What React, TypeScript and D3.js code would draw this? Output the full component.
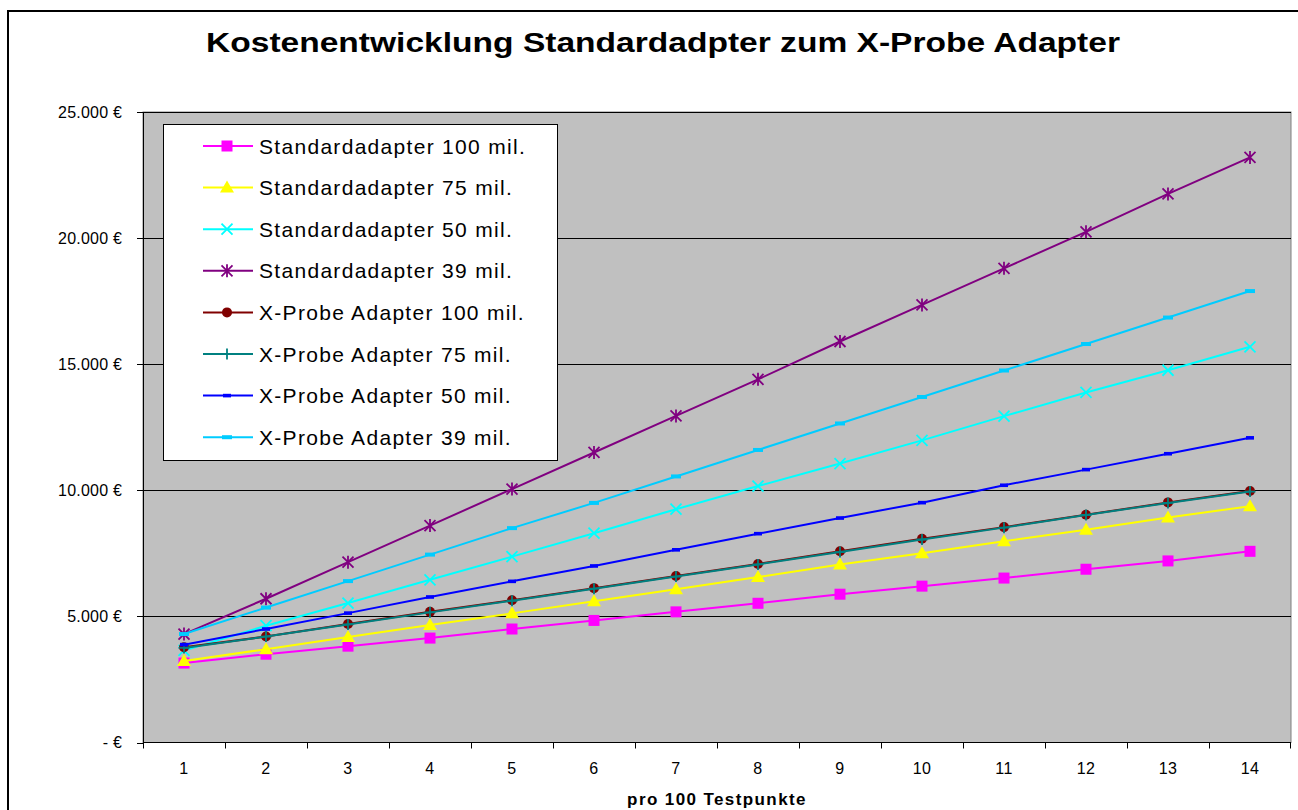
import React from "react";
import * as d3 from "d3";

const categories = ["1","2","3","4","5","6","7","8","9","10","11","12","13","14"];
const yTicks = [0, 5000, 10000, 15000, 20000, 25000];

const std100 = [3150, 3500, 3820, 4140, 4500, 4840, 5180, 5520, 5880, 6200, 6520, 6870, 7200, 7580];
const std75 = [3230, 3700, 4180, 4660, 5120, 5600, 6080, 6560, 7060, 7500, 7980, 8440, 8920, 9370];
const std50 = [3650, 4630, 5530, 6450, 7370, 8300, 9250, 10170, 11060, 11980, 12940, 13880, 14760, 15690];
const std39 = [4300, 5700, 7150, 8600, 10050, 11500, 12950, 14400, 15900, 17350, 18800, 20250, 21750, 23200];
const xp100 = [3780, 4200, 4700, 5180, 5640, 6120, 6600, 7080, 7580, 8080, 8540, 9030, 9520, 9970];
const xp75 = [3750, 4200, 4680, 5160, 5620, 6100, 6580, 7060, 7550, 8050, 8520, 9020, 9500, 9950];
const xp50 = [3880, 4500, 5130, 5770, 6390, 7000, 7640, 8280, 8900, 9510, 10200, 10820, 11450, 12080];
const xp39 = [4300, 5350, 6400, 7450, 8500, 9500, 10550, 11600, 12650, 13700, 14750, 15800, 16850, 17900];

const seriesNames = [
  "Standardadapter 100 mil.",
  "Standardadapter 75 mil.",
  "Standardadapter 50 mil.",
  "Standardadapter 39 mil.",
  "X-Probe Adapter 100 mil.",
  "X-Probe Adapter 75 mil.",
  "X-Probe Adapter 50 mil.",
  "X-Probe Adapter 39 mil.",
];
const seriesValues = [std100, std75, std50, std39, xp100, xp75, xp50, xp39];
const seriesColors = ["#FF00FF", "#FFFF00", "#00FFFF", "#800080", "#800000", "#008080", "#0000FF", "#00CCFF"];
const seriesMarkers = ["square", "triangle", "x", "star", "circle", "plus", "dashSmall", "dashBig"];

const FONT = "'Liberation Sans', Arial, sans-serif";

function Marker({ type, x, y, color }: { type: string; x: number; y: number; color: string }) {
  switch (type) {
    case "square":
      return <rect x={x - 5.5} y={y - 5.5} width={11} height={11} fill={color} />;
    case "triangle":
      return <path d={`M${x},${y - 7} L${x + 7},${y + 5} L${x - 7},${y + 5} Z`} fill={color} />;
    case "x":
      return (
        <path d={`M${x - 5.5},${y - 5.5} L${x + 5.5},${y + 5.5} M${x - 5.5},${y + 5.5} L${x + 5.5},${y - 5.5}`} stroke={color} strokeWidth={1.8} />
      );
    case "star":
      return (
        <path
          d={`M${x - 5.5},${y - 5.5} L${x + 5.5},${y + 5.5} M${x - 5.5},${y + 5.5} L${x + 5.5},${y - 5.5} M${x},${y - 6.5} L${x},${y + 6.5}`}
          stroke={color}
          strokeWidth={1.8}
        />
      );
    case "circle":
      return <circle cx={x} cy={y} r={5} fill={color} />;
    case "plus":
      return <path d={`M${x - 5.5},${y} L${x + 5.5},${y} M${x},${y - 5.5} L${x},${y + 5.5}`} stroke={color} strokeWidth={1.8} />;
    case "dashSmall":
      return <rect x={x - 4} y={y - 1.8} width={8} height={3.6} fill={color} />;
    case "dashBig":
      return <rect x={x - 5} y={y - 2} width={10} height={4} fill={color} />;
    default:
      return null;
  }
}

export default function App() {
  const W = 1298;
  const H = 810;
  const left = 143;
  const right = 1291;
  const top = 112;
  const bottom = 742.5;

  const x = d3.scaleBand<string>().domain(categories).range([left, right]).padding(0);
  const y = d3.scaleLinear().domain([0, 25000]).range([bottom, top]);
  const cx = (c: string) => (x(c) as number) + x.bandwidth() / 2;

  const line = d3
    .line<number>()
    .x((_, i) => cx(categories[i]))
    .y((d) => y(d));

  const fmt = (v: number) => (v === 0 ? "- €" : d3.format(",")(v).replace(/,/g, ".") + " €");

  const legendX = 163;
  const legendY = 124;
  const legendW = 394;
  const legendH = 336;
  const rowY = (i: number) => 146 + i * 41.6;

  return (
    <svg width={W} height={H} style={{ position: "absolute", left: 0, top: 0 }} fontFamily={FONT}>
      <rect x={0} y={0} width={W} height={H} fill="#fff" />
      <rect x={8} y={11} width={1320} height={830} fill="#fff" stroke="#000" strokeWidth={2} />

      <text x={663} y={52} textAnchor="middle" fontSize={27} fontWeight="bold" textLength={914} lengthAdjust="spacingAndGlyphs">
        Kostenentwicklung Standardadpter zum X-Probe Adapter
      </text>

      {/* plot area */}
      <rect x={left} y={top} width={right - left} height={bottom - top} fill="#C0C0C0" stroke="#808080" strokeWidth={1} />
      {yTicks.slice(1).map((t) => (
        <line key={t} x1={left} x2={right} y1={Math.round(y(t)) + 0.5} y2={Math.round(y(t)) + 0.5} stroke="#000" strokeWidth={1} />
      ))}
      <line x1={left + 0.5} x2={left + 0.5} y1={top} y2={bottom} stroke="#000" />
      <line x1={left} x2={right} y1={bottom} y2={bottom} stroke="#000" />

      {yTicks.map((t) => (
        <g key={t}>
          <line x1={137} x2={left} y1={Math.round(y(t)) + 0.5} y2={Math.round(y(t)) + 0.5} stroke="#000" />
          <text x={122} y={y(t) + 5.5} textAnchor="end" fontSize={16} letterSpacing={0.2}>
            {fmt(t)}
          </text>
        </g>
      ))}

      {categories.map((c, i) => (
        <g key={c}>
          <line x1={Math.round(x(c) as number) + 0.5} x2={Math.round(x(c) as number) + 0.5} y1={bottom} y2={bottom + 6} stroke="#000" />
          {i === categories.length - 1 && (
            <line x1={right - 0.5} x2={right - 0.5} y1={bottom} y2={bottom + 6} stroke="#000" />
          )}
          <text x={cx(c)} y={774} textAnchor="middle" fontSize={16} letterSpacing={0.4}>
            {c}
          </text>
        </g>
      ))}

      <text x={717} y={805} textAnchor="middle" fontSize={17} fontWeight="bold" letterSpacing={1.4}>
        pro 100 Testpunkte
      </text>

      {seriesValues.map((vals, si) => (
        <g key={si}>
          <path d={line(vals) as string} fill="none" stroke={seriesColors[si]} strokeWidth={2} />
          {vals.map((v, i) => (
            <Marker key={i} type={seriesMarkers[si]} x={cx(categories[i])} y={y(v)} color={seriesColors[si]} />
          ))}
        </g>
      ))}

      {/* legend */}
      <rect x={legendX + 0.5} y={legendY + 0.5} width={legendW} height={legendH} fill="#fff" stroke="#000" strokeWidth={1} />
      {seriesNames.map((n, i) => (
        <g key={n}>
          <line x1={203} x2={253} y1={rowY(i)} y2={rowY(i)} stroke={seriesColors[i]} strokeWidth={2} />
          <Marker type={seriesMarkers[i]} x={227} y={rowY(i)} color={seriesColors[i]} />
          <text x={259} y={rowY(i) + 7.5} fontSize={21} letterSpacing={1.3}>
            {n}
          </text>
        </g>
      ))}
    </svg>
  );
}
